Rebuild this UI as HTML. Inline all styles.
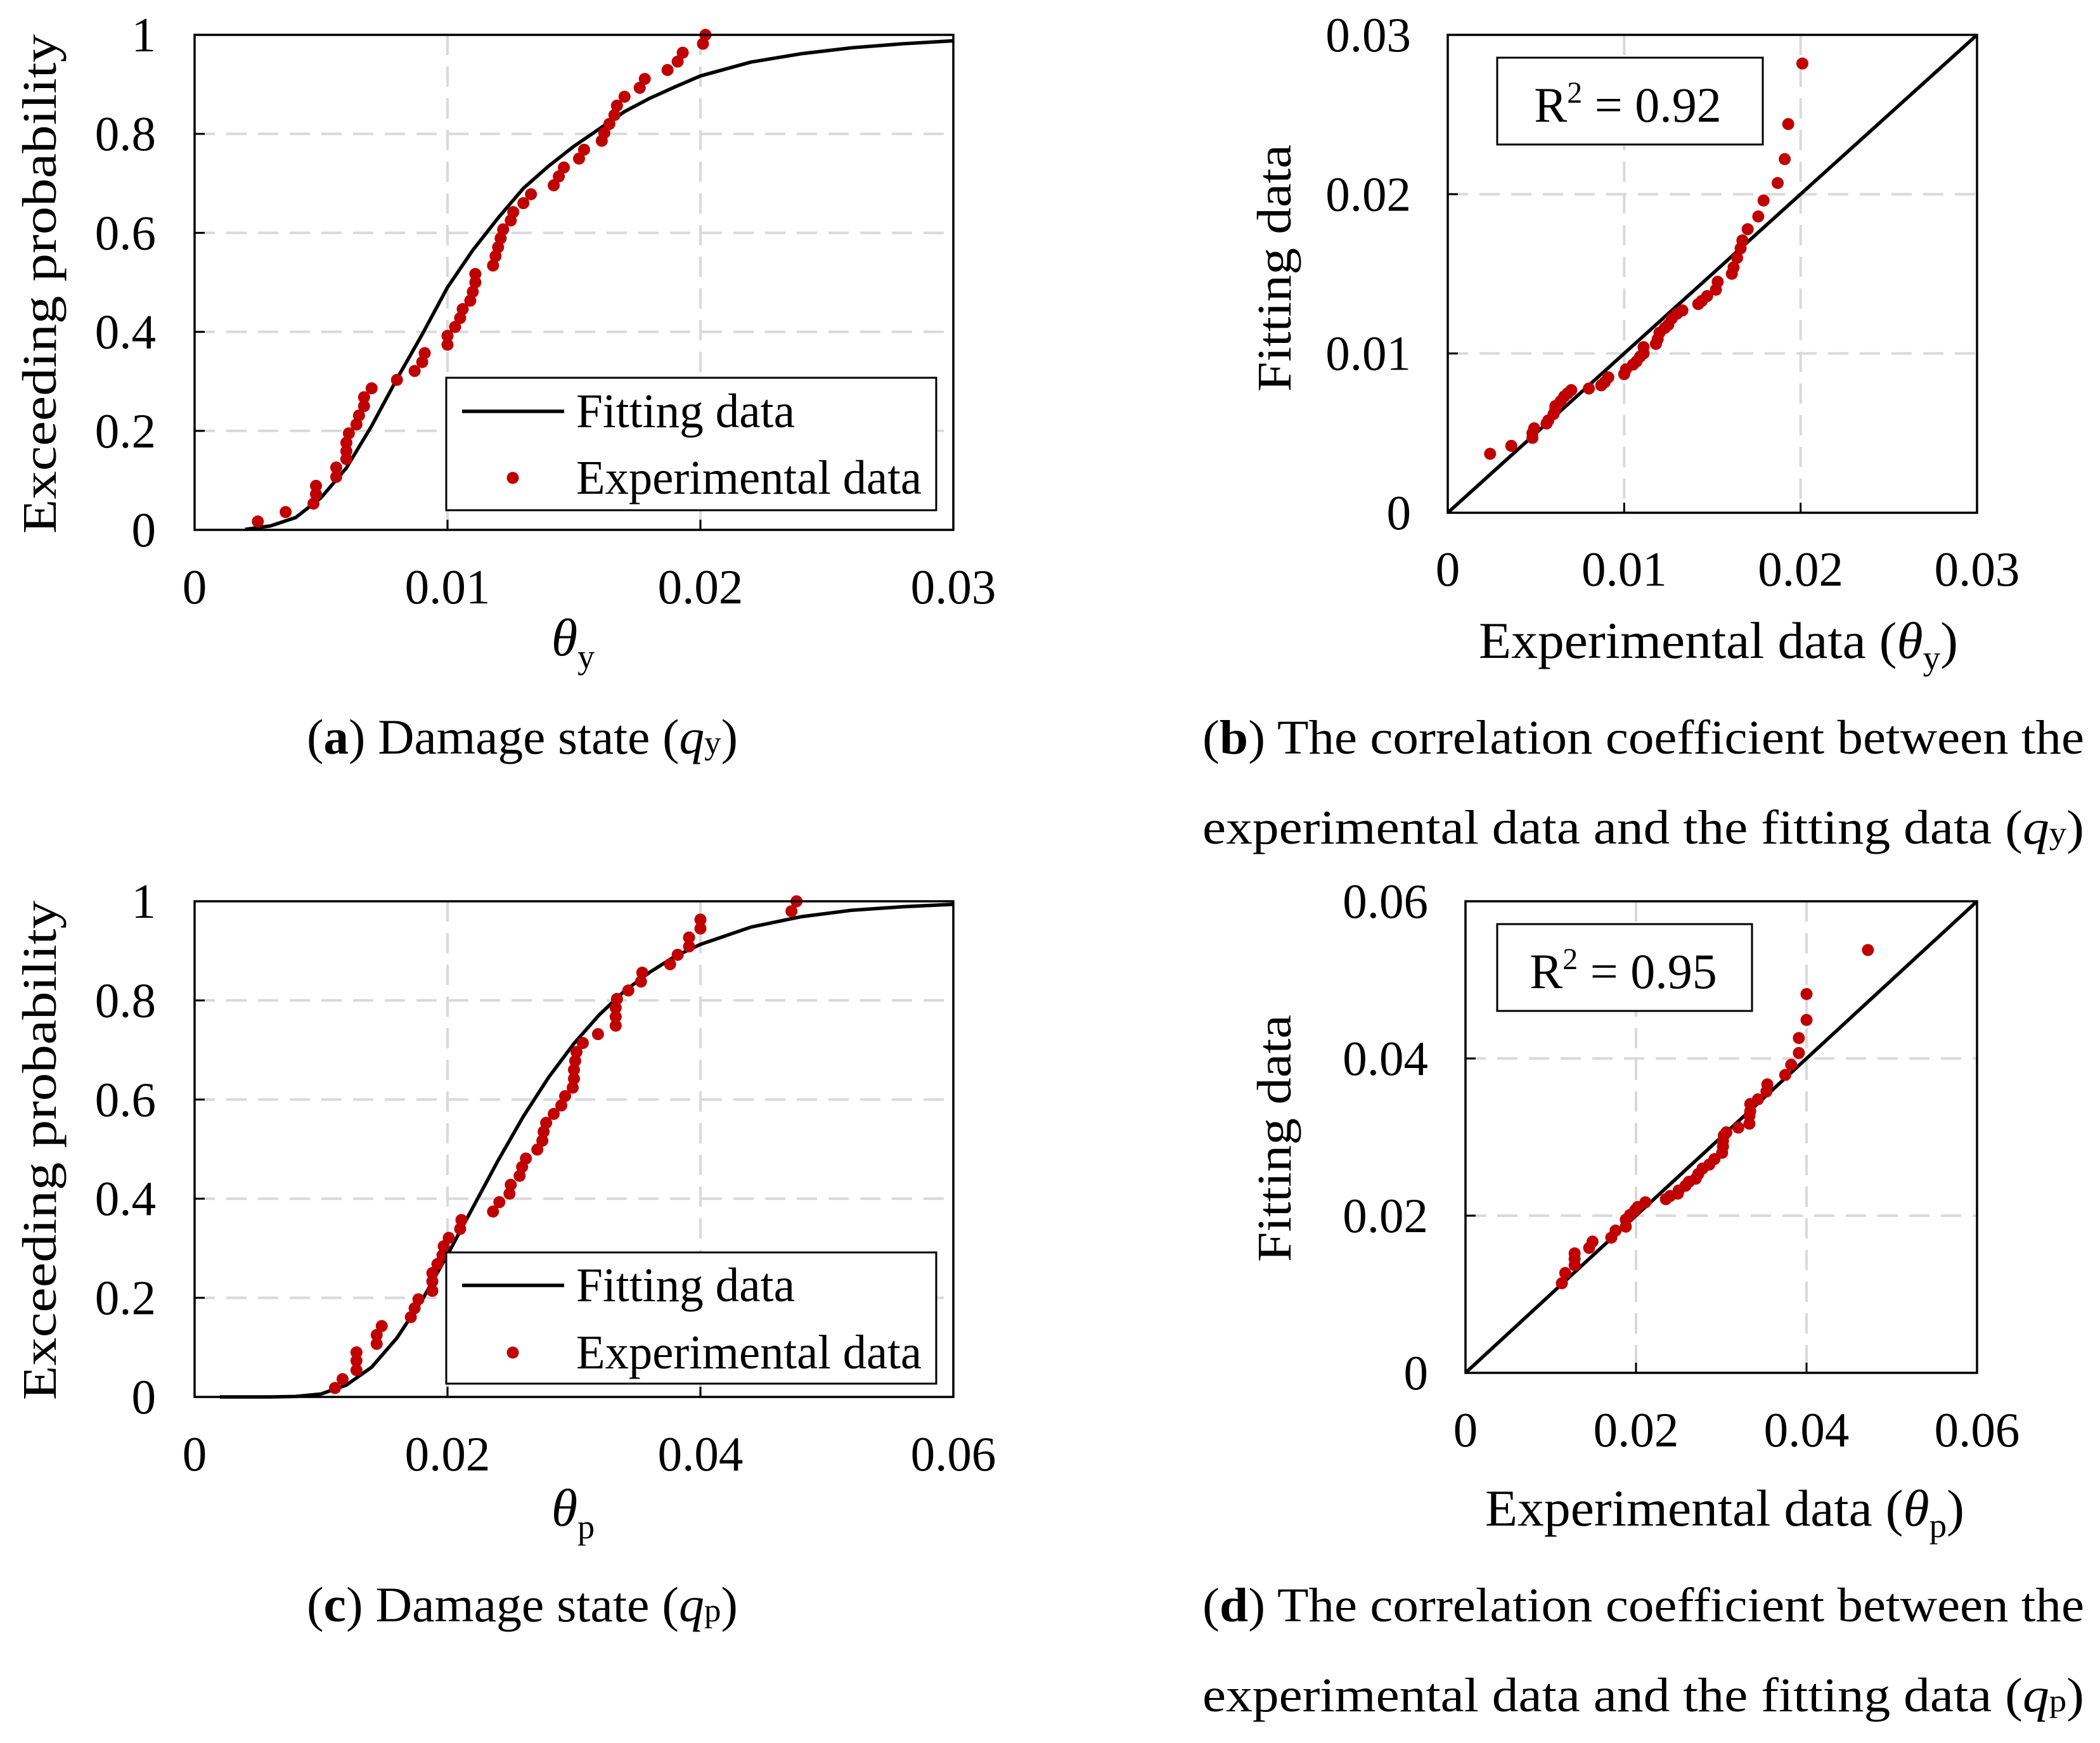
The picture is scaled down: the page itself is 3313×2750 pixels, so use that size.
<!DOCTYPE html>
<html><head><meta charset="utf-8">
<style>
html,body{margin:0;padding:0;background:#fff;}
svg{display:block;font-family:"Liberation Serif",serif;}
</style></head>
<body>
<svg id="fig" xmlns="http://www.w3.org/2000/svg" width="3313" height="2750" viewBox="0 0 3313 2750">
<rect x="0" y="0" width="3313" height="2750" fill="#fff"/>
</svg>
<script>
// ---- Plot (a) data ----
const aExpX = [0.0025,0.0036,0.0047,0.0048,0.0048,0.0056,0.0056,0.006,0.006,0.006,0.0061,0.0064,0.0065,0.0067,0.0067,0.007,0.008,0.0087,0.009,0.0091,0.01,0.01,0.0103,0.0105,0.0106,0.0109,0.011,0.0111,0.0111,0.0118,0.0119,0.012,0.0121,0.0122,0.0125,0.0126,0.013,0.0133,0.0142,0.0144,0.0146,0.0152,0.0154,0.0161,0.0162,0.0164,0.0166,0.0167,0.017,0.0176,0.0178,0.0187,0.0191,0.0193,0.0201,0.0202];
const aExpY = [0.017,0.036,0.053,0.072,0.089,0.107,0.126,0.143,0.159,0.176,0.195,0.213,0.231,0.25,0.268,0.286,0.303,0.321,0.339,0.357,0.374,0.392,0.41,0.428,0.446,0.463,0.481,0.5,0.517,0.534,0.553,0.571,0.589,0.607,0.625,0.642,0.66,0.678,0.696,0.714,0.732,0.75,0.768,0.786,0.802,0.82,0.838,0.857,0.875,0.893,0.911,0.929,0.946,0.964,0.982,1.0];
const aFitX = [0.002,0.003,0.004,0.005,0.006,0.007,0.008,0.009,0.010,0.011,0.012,0.013,0.014,0.015,0.016,0.017,0.018,0.019,0.020,0.022,0.024,0.026,0.028,0.030];
const aFitY = [0.001,0.008,0.025,0.065,0.125,0.21,0.305,0.395,0.49,0.565,0.63,0.69,0.735,0.775,0.81,0.845,0.872,0.895,0.917,0.945,0.962,0.974,0.982,0.988];
const aXTicks = [0,0.01,0.02,0.03];
const aXTickLabels = ["0","0.01","0.02","0.03"];
const aYTicks = [0,0.2,0.4,0.6,0.8,1];
const aYTickLabels = ["0","0.2","0.4","0.6","0.8","1"];
// ---- Plot (b) data ----
const bExpX = [0.0024,0.0036,0.0048,0.0048,0.0049,0.0056,0.0057,0.006,0.0061,0.0061,0.0064,0.0066,0.0068,0.007,0.008,0.0087,0.0089,0.0091,0.01,0.0101,0.0105,0.0107,0.0109,0.0111,0.0111,0.0118,0.0119,0.012,0.0123,0.0125,0.0127,0.013,0.0133,0.0142,0.0144,0.0147,0.0152,0.0153,0.0161,0.0162,0.0164,0.0166,0.0167,0.017,0.0176,0.0179,0.0187,0.0191,0.0193,0.0201];
const bFitY = [0.0037,0.0042,0.0047,0.005,0.0053,0.0056,0.0058,0.0062,0.0065,0.0067,0.007,0.0073,0.0075,0.0077,0.0078,0.008,0.0082,0.0085,0.0087,0.009,0.0093,0.0095,0.0098,0.01,0.0104,0.0106,0.0109,0.0113,0.0116,0.0118,0.0122,0.0125,0.0127,0.0131,0.0133,0.0136,0.014,0.0145,0.015,0.0154,0.016,0.0166,0.0171,0.0178,0.0186,0.0196,0.0207,0.0222,0.0244,0.0282];
const bTicks = [0,0.01,0.02,0.03];
const bTickLabels = ["0","0.01","0.02","0.03"];
// ---- Plot (c) data ----
const cExpX = [0.0111,0.0117,0.0128,0.0128,0.0128,0.0144,0.0144,0.0148,0.0171,0.0174,0.0177,0.0188,0.0188,0.0188,0.0192,0.0196,0.0197,0.0201,0.021,0.0211,0.0236,0.0241,0.0249,0.025,0.0257,0.0259,0.0262,0.0271,0.0275,0.0276,0.0278,0.0284,0.029,0.0293,0.0299,0.03,0.03,0.0301,0.0302,0.0307,0.0319,0.0333,0.0333,0.0333,0.0334,0.0343,0.0353,0.0354,0.0376,0.0382,0.0391,0.0391,0.04,0.04,0.0472,0.0476];
const cExpY = [0.018,0.036,0.054,0.073,0.09,0.107,0.125,0.143,0.161,0.179,0.197,0.214,0.233,0.25,0.268,0.286,0.304,0.321,0.339,0.357,0.374,0.393,0.41,0.428,0.446,0.464,0.481,0.499,0.517,0.535,0.553,0.571,0.588,0.607,0.624,0.642,0.66,0.678,0.696,0.714,0.732,0.749,0.767,0.785,0.803,0.82,0.838,0.856,0.873,0.892,0.909,0.927,0.945,0.963,0.98,1.0];
const cFitX = [0.002,0.006,0.008,0.010,0.012,0.014,0.016,0.018,0.020,0.022,0.024,0.026,0.028,0.030,0.032,0.034,0.036,0.038,0.040,0.044,0.048,0.052,0.056,0.060];
const cFitY = [0,0,0.001,0.006,0.024,0.060,0.119,0.196,0.287,0.382,0.477,0.566,0.645,0.713,0.771,0.819,0.857,0.889,0.913,0.948,0.969,0.982,0.989,0.994];
const cXTicks = [0,0.02,0.04,0.06];
const cXTickLabels = ["0","0.02","0.04","0.06"];
const cYTicks = [0,0.2,0.4,0.6,0.8,1];
const cYTickLabels = ["0","0.2","0.4","0.6","0.8","1"];
// ---- Plot (d) data ----
const dExpX = [0.0113,0.0117,0.0128,0.0128,0.0128,0.0145,0.0149,0.0171,0.0176,0.0188,0.0188,0.0193,0.0199,0.0202,0.0211,0.0235,0.024,0.0249,0.025,0.0258,0.0262,0.027,0.0273,0.0278,0.0286,0.0292,0.0301,0.0302,0.0302,0.0303,0.0306,0.032,0.0333,0.0333,0.0334,0.0334,0.0343,0.0353,0.0354,0.0375,0.0382,0.0391,0.0391,0.04,0.04,0.0472];
const dFitY = [0.0114,0.0127,0.0137,0.0145,0.0152,0.0159,0.0167,0.0172,0.0181,0.0186,0.0195,0.0201,0.0207,0.0211,0.0217,0.0221,0.0225,0.0228,0.0232,0.0238,0.0243,0.0247,0.0253,0.026,0.0265,0.0272,0.028,0.0288,0.0295,0.0302,0.0306,0.0312,0.0317,0.0327,0.0333,0.0342,0.0348,0.0358,0.0367,0.0379,0.0392,0.0407,0.0426,0.0449,0.0482,0.0538];
const dTicks = [0,0.02,0.04,0.06];
const dTickLabels = ["0","0.02","0.04","0.06"];

const NS = "http://www.w3.org/2000/svg";
const svg = document.getElementById('fig');
const RED = "#c00000";
function mk(tag, attrs, parent){
  const e = document.createElementNS(NS, tag);
  for (const k in attrs) e.setAttribute(k, attrs[k]);
  (parent||svg).appendChild(e);
  return e;
}
function scale(d0,d1,r0,r1){ return v => r0 + (v-d0)/(d1-d0)*(r1-r0); }

function panel(cfg){
  const g = mk('g',{});
  
  
  const X = scale(cfg.xd[0],cfg.xd[1],cfg.L,cfg.R);
  const Y = scale(cfg.yd[0],cfg.yd[1],cfg.B,cfg.T);
  cfg.xt.forEach((v,i)=>{
    if(i===0||i===cfg.xt.length-1) return;
    const l = mk('line',{x1:X(v),x2:X(v),y1:cfg.T,y2:cfg.B,stroke:"#d9d9d9","stroke-width":4,"stroke-dasharray":"32 18"},g);
    
    
    const t = mk('line',{x1:X(v),x2:X(v),y1:cfg.B,y2:cfg.B-16,stroke:"#000","stroke-width":3},g);
    
    
  });
  cfg.yt.forEach((v,i)=>{
    if(i===0||i===cfg.yt.length-1) return;
    const l = mk('line',{x1:cfg.L,x2:cfg.R,y1:Y(v),y2:Y(v),stroke:"#d9d9d9","stroke-width":4,"stroke-dasharray":"32 18"},g);
    
    
    const t = mk('line',{x1:cfg.L,x2:cfg.L+16,y1:Y(v),y2:Y(v),stroke:"#000","stroke-width":3},g);
    
    
  });
  cfg.xt.forEach((v,i)=>{
    const t = mk('text',{x:X(v),y:cfg.xLabY,"font-size":77,"text-anchor":"middle"},g);
    t.textContent = cfg.xtl[i];
    
    
  });
  cfg.yt.forEach((v,i)=>{
    const t = mk('text',{x:cfg.yLabX,y:Y(v)+26,"font-size":77,"text-anchor":"end"},g);
    t.textContent = cfg.ytl[i];
    
    
  });
  let pts;
  if(cfg.diag){
    pts = X(cfg.xd[0])+","+Y(cfg.yd[0])+" "+X(cfg.xd[1])+","+Y(cfg.yd[1]);
  } else {
    pts = cfg.fx.map((v,i)=>X(v)+","+Y(cfg.fy[i])).join(" ");
  }
  const pl = mk('polyline',{points:pts,fill:"none",stroke:"#000","stroke-width":5.5,"stroke-linejoin":"round"},g);
  
  
  cfg.ex.forEach((v,i)=>{
    const c = mk('circle',{cx:X(v),cy:Y(cfg.ey[i]),r:9.5,fill:RED},g);
    
    
  });
  const fr = mk('rect',{x:cfg.L,y:cfg.T,width:cfg.R-cfg.L,height:cfg.B-cfg.T,fill:"none",stroke:"#000","stroke-width":3.5},g);
  
  
  return g;
}

panel({name:'panel-a',L:307,R:1504,T:55,B:836,xd:[0,0.03],yd:[0,1],xt:aXTicks,xtl:aXTickLabels,yt:aYTicks,ytl:aYTickLabels,xLabY:952,yLabX:246,fx:aFitX,fy:aFitY,ex:aExpX,ey:aExpY});
panel({name:'panel-b',L:2284,R:3119,T:55,B:809,xd:[0,0.03],yd:[0,0.03],xt:bTicks,xtl:bTickLabels,yt:bTicks,ytl:bTickLabels,xLabY:924,yLabX:2226,diag:true,ex:bExpX,ey:bFitY});
panel({name:'panel-c',L:307,R:1504,T:1422,B:2204,xd:[0,0.06],yd:[0,1],xt:cXTicks,xtl:cXTickLabels,yt:cYTicks,ytl:cYTickLabels,xLabY:2320,yLabX:246,fx:cFitX,fy:cFitY,ex:cExpX,ey:cExpY});
panel({name:'panel-d',L:2312,R:3119,T:1422,B:2166,xd:[0,0.06],yd:[0,0.06],xt:dTicks,xtl:dTickLabels,yt:dTicks,ytl:dTickLabels,xLabY:2282,yLabX:2253,diag:true,ex:dExpX,ey:dFitY});
</script>
<svg style="position:absolute;left:0;top:0" width="3313" height="2750" viewBox="0 0 3313 2750" font-family="Liberation Serif, serif">
  <g>
    <rect x="704" y="596" width="773" height="209" fill="#fff" stroke="#000" stroke-width="3"/>
    <line x1="729" y1="649" x2="890" y2="649" stroke="#000" stroke-width="5.5"/>
    <text x="909" y="674" font-size="76" textLength="345" lengthAdjust="spacingAndGlyphs">Fitting data</text>
    <circle cx="809" cy="754" r="9.5" fill="#c00000"/>
    <text x="909" y="779" font-size="76" textLength="545" lengthAdjust="spacingAndGlyphs">Experimental data</text>
  </g>
  <g>
    <rect x="704" y="1976" width="773" height="207" fill="#fff" stroke="#000" stroke-width="3"/>
    <line x1="729" y1="2028" x2="890" y2="2028" stroke="#000" stroke-width="5.5"/>
    <text x="909" y="2053" font-size="76" textLength="345" lengthAdjust="spacingAndGlyphs">Fitting data</text>
    <circle cx="809" cy="2134" r="9.5" fill="#c00000"/>
    <text x="909" y="2159" font-size="76" textLength="545" lengthAdjust="spacingAndGlyphs">Experimental data</text>
  </g>
  <g>
    <rect x="2362" y="91" width="419" height="137" fill="#fff" stroke="#000" stroke-width="3"/>
    <text x="2568" y="192" font-size="78" text-anchor="middle">R<tspan font-size="48" dy="-30">2</tspan><tspan dy="30"> = 0.92</tspan></text>
  </g>
  <g>
    <rect x="2362" y="1458" width="402" height="137" fill="#fff" stroke="#000" stroke-width="3"/>
    <text x="2561" y="1559" font-size="78" text-anchor="middle">R<tspan font-size="48" dy="-30">2</tspan><tspan dy="30"> = 0.95</tspan></text>
  </g>
  <text transform="translate(88,448) rotate(-90)" font-size="76" text-anchor="middle" textLength="788" lengthAdjust="spacingAndGlyphs">Exceeding probability</text>
  <text transform="translate(88,1815) rotate(-90)" font-size="76" text-anchor="middle" textLength="788" lengthAdjust="spacingAndGlyphs">Exceeding probability</text>
  <text transform="translate(2036,423) rotate(-90)" font-size="76" text-anchor="middle" textLength="390" lengthAdjust="spacingAndGlyphs">Fitting data</text>
  <text transform="translate(2036,1796) rotate(-90)" font-size="76" text-anchor="middle" textLength="390" lengthAdjust="spacingAndGlyphs">Fitting data</text>
  <text x="904" y="1034" font-size="84" text-anchor="middle"><tspan font-style="italic">θ</tspan><tspan font-size="54" dy="20">y</tspan></text>
  <text x="904" y="2407" font-size="84" text-anchor="middle"><tspan font-style="italic">θ</tspan><tspan font-size="54" dy="20">p</tspan></text>
  <text x="2711" y="1038" font-size="82" text-anchor="middle" textLength="756" lengthAdjust="spacingAndGlyphs">Experimental data (<tspan font-style="italic">θ</tspan><tspan font-size="54" dy="18">y</tspan><tspan dy="-18">)</tspan></text>
  <text x="2721" y="2407" font-size="82" text-anchor="middle" textLength="756" lengthAdjust="spacingAndGlyphs">Experimental data (<tspan font-style="italic">θ</tspan><tspan font-size="54" dy="18">p</tspan><tspan dy="-18">)</tspan></text>
  <text x="824" y="1189" font-size="78" text-anchor="middle" textLength="680" lengthAdjust="spacingAndGlyphs">(<tspan font-weight="bold">a</tspan>) Damage state (<tspan font-style="italic">q</tspan><tspan font-size="52">y</tspan>)</text>
  <text x="824" y="2558" font-size="78" text-anchor="middle" textLength="680" lengthAdjust="spacingAndGlyphs">(<tspan font-weight="bold">c</tspan>) Damage state (<tspan font-style="italic">q</tspan><tspan font-size="52">p</tspan>)</text>
  <text x="1897" y="1189" font-size="76" textLength="1391" lengthAdjust="spacingAndGlyphs">(<tspan font-weight="bold">b</tspan>) The correlation coefficient between the</text>
  <text x="1897" y="1331" font-size="76" textLength="1391" lengthAdjust="spacingAndGlyphs">experimental data and the fitting data (<tspan font-style="italic">q</tspan><tspan font-size="50">y</tspan>)</text>
  <text x="1897" y="2558" font-size="76" textLength="1391" lengthAdjust="spacingAndGlyphs">(<tspan font-weight="bold">d</tspan>) The correlation coefficient between the</text>
  <text x="1897" y="2700" font-size="76" textLength="1391" lengthAdjust="spacingAndGlyphs">experimental data and the fitting data (<tspan font-style="italic">q</tspan><tspan font-size="50">p</tspan>)</text>
</svg>
</body></html>
